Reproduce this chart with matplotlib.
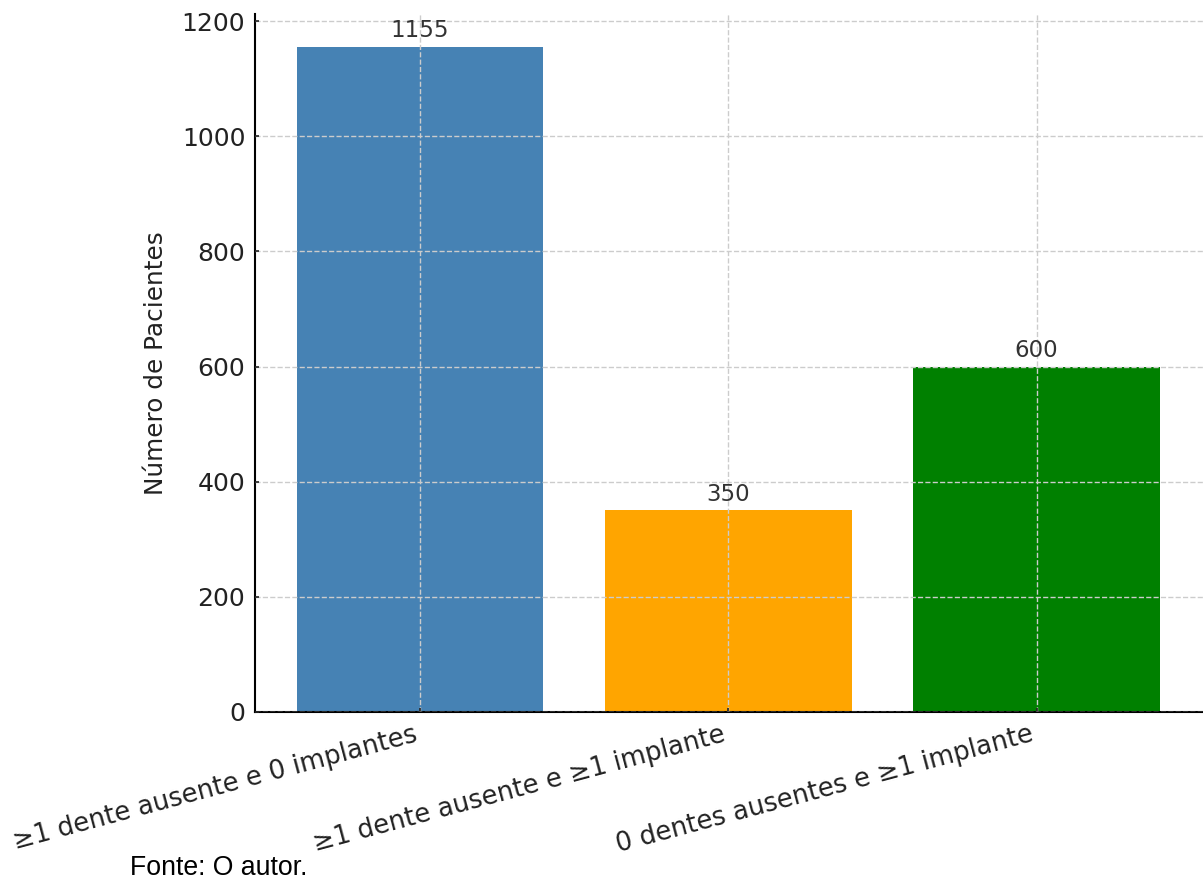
import matplotlib
matplotlib.use("Agg")
import matplotlib.pyplot as plt

categories = ["≥1 dente ausente e 0 implantes", "≥1 dente ausente e ≥1 implante", "0 dentes ausentes e ≥1 implante"]
values = [1155, 350, 600]
colors = ["steelblue", "orange", "green"]
yticks = [0, 200, 400, 600, 800, 1000, 1200]

fig = plt.figure(figsize=(12.03, 8.91), dpi=100)
ax = fig.add_axes([0.212, 0.201, 0.788, 0.783])
bars = ax.bar(categories, values, color=colors, width=0.8, zorder=1)
ax.grid(True, linestyle="--", color="#cccccc", linewidth=1, zorder=2)
ax.set_axisbelow(False)
for b, v in zip(bars, values):
    ax.text(b.get_x() + b.get_width() / 2, v + 8, str(v), ha="center", va="bottom",
            fontsize=16.5, color="#333333", zorder=3)
ax.set_yticks(yticks)
ax.tick_params(axis="both", direction="in", length=3, width=1.2, pad=7, color="#222222")
ax.tick_params(axis="y", labelsize=18, labelcolor="#222222")
ax.tick_params(axis="x", labelsize=18.5, labelcolor="#222222")
plt.setp(ax.get_xticklabels(), rotation=15, ha="right", rotation_mode="default")
ax.set_ylabel("Número de Pacientes", fontsize=17.8, color="#222222", labelpad=10)
ax.spines["top"].set_visible(False)
ax.spines["right"].set_visible(False)
ax.spines["left"].set_linewidth(1.5)
ax.spines["bottom"].set_linewidth(1.5)
ax.set_xlim(-0.535, 2.54)
ax.set_ylim(0, 1212)
fig.text(0.108, 0.018, "Fonte: O autor.", fontsize=19.2, family="Liberation Sans", color="black")
fig.savefig("out.png", dpi=100)
